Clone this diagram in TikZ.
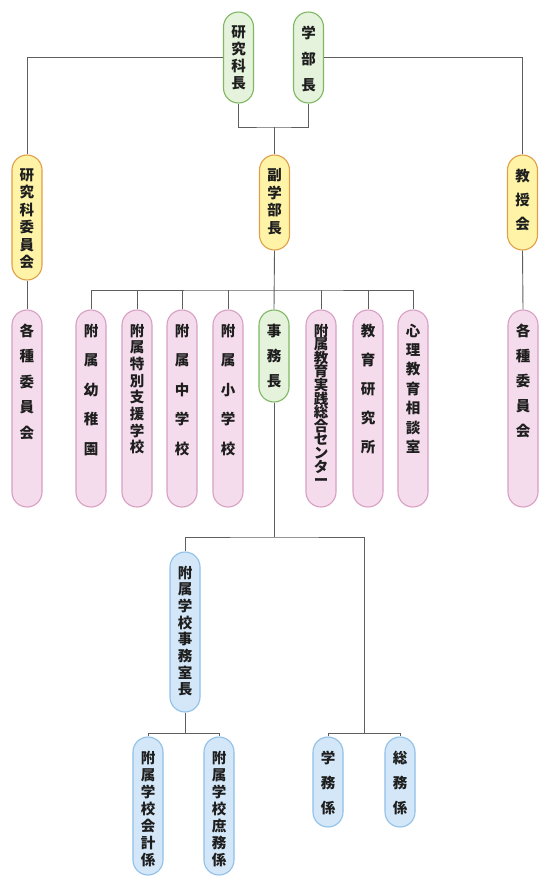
\documentclass[tikz,border=0pt]{standalone}
\usepackage{fontspec}
\newfontfamily\cjk{Noto Sans CJK JP}
\definecolor{lnc}{HTML}{5E5E5E}
\definecolor{gfill}{HTML}{E5F2DC}\definecolor{gdraw}{HTML}{7FB862}
\definecolor{yfill}{HTML}{FFF3A8}\definecolor{ydraw}{HTML}{E0A048}
\definecolor{pfill}{HTML}{F4DCEC}\definecolor{pdraw}{HTML}{D89FC5}
\definecolor{bfill}{HTML}{D3E7F8}\definecolor{bdraw}{HTML}{8FC0E8}
\definecolor{txt}{HTML}{1E1E1E}
\lineskiplimit=-30pt
\lineskip=0pt
\tikzset{
  orgbox/.style={draw, rounded corners=15pt, minimum width=30pt, inner sep=0pt, line width=1.1pt},
  grn/.style={orgbox, fill=gfill, draw=gdraw},
  yel/.style={orgbox, fill=yfill, draw=ydraw},
  pnk/.style={orgbox, fill=pfill, draw=pdraw},
  blu/.style={orgbox, fill=bfill, draw=bdraw},
  lbl/.style={align=center, inner sep=0pt, anchor=north, text=txt},
  conn/.style={draw=lnc, line width=0.9pt}
}
\newcommand\obox[7]{%
  \node[#2, minimum height=#5pt] (#1) at (#3,#4+#5/2) {};
  \node[lbl, font={\cjk\bfseries\fontsize{14.5pt}{#6pt}\selectfont}] (#1t) at ([yshift=-14pt]#1.north) {#7};
}
\begin{document}
\begin{tikzpicture}[x=1pt,y=-1pt]
\fill[white] (0,0) rectangle (546,884);
\useasboundingbox (0,0) rectangle (546,884);
% top
\obox{kk}{grn}{238.5}{12}{91}{17}{研\\究\\科\\長}
\obox{gb}{grn}{308.5}{12}{91}{26}{学\\部\\長}
% second row
\obox{ik}{yel}{27}{155}{125}{17.5}{研\\究\\科\\委\\員\\会}
\obox{fg}{yel}{274.5}{155}{95}{17.5}{副\\学\\部\\長}
\obox{kyo}{yel}{522.5}{155}{95}{24}{教\\授\\会}
% third row
\obox{kl}{pnk}{27}{310}{197}{25.5}{各\\種\\委\\員\\会}
\obox{kr}{pnk}{523}{310}{197}{25}{各\\種\\委\\員\\会}
\obox{p1}{pnk}{91}{310}{197}{29.5}{附\\属\\幼\\稚\\園}
\obox{p2}{pnk}{137}{310}{197}{16.7}{附\\属\\特\\別\\支\\援\\学\\校}
\obox{p3}{pnk}{182}{310}{197}{29.5}{附\\属\\中\\学\\校}
\obox{p4}{pnk}{228}{310}{197}{29.5}{附\\属\\小\\学\\校}
\obox{jm}{grn}{274}{310}{92}{25}{事\\務\\長}
\obox{p5}{pnk}{321}{310}{197}{13.6}{附\\属\\教\\育\\実\\践\\総\\合\\セ\\ン\\タ\\ー}
\obox{p6}{pnk}{368}{310}{197}{29}{教\\育\\研\\究\\所}
\obox{p7}{pnk}{413}{310}{197}{19.4}{心\\理\\教\\育\\相\\談\\室}
% lower
\obox{js}{blu}{185}{552}{160}{16.7}{附\\属\\学\\校\\事\\務\\室\\長}
\obox{a1}{blu}{148}{737}{138}{17}{附\\属\\学\\校\\会\\計\\係}
\obox{a2}{blu}{219}{737}{138}{17}{附\\属\\学\\校\\庶\\務\\係}
\obox{g1}{blu}{328}{737}{90}{25}{学\\務\\係}
\obox{g2}{blu}{400}{737}{90}{25}{総\\務\\係}
% connectors
\coordinate (j1) at (274.5,127);
\coordinate (b2) at (274.5,290);
\coordinate (b3) at (274,537);
\coordinate (b4) at (185,733);
\coordinate (b5) at (364,733);
\draw[conn] (ik.north) |- (kk.west);
\draw[conn] (kyo.north) |- (gb.east);
\draw[conn] (kk.south) |- (j1) -| (gb.south);
\draw[conn] (j1) -- (fg.north);
\draw[conn] (ik.south) -- (kl.north);
\draw[conn] (kyo.south) -- (kr.north);
\draw[conn] (fg.south) -- (jm.north);
\draw[conn] (p1.north) |- (b2) -| (p7.north);
\foreach \n in {p2,p3,p4,p5,p6} \draw[conn] (\n.north) -- (\n.north |- b2);
\draw[conn] (jm.south) -- (b3);
\draw[conn] (js.north) |- (b3) -| (b5);
\draw[conn] (js.south) -- (b4);
\draw[conn] (a1.north) |- (b4) -| (a2.north);
\draw[conn] (g1.north) |- (b5) -| (g2.north);
\end{tikzpicture}
\end{document}
